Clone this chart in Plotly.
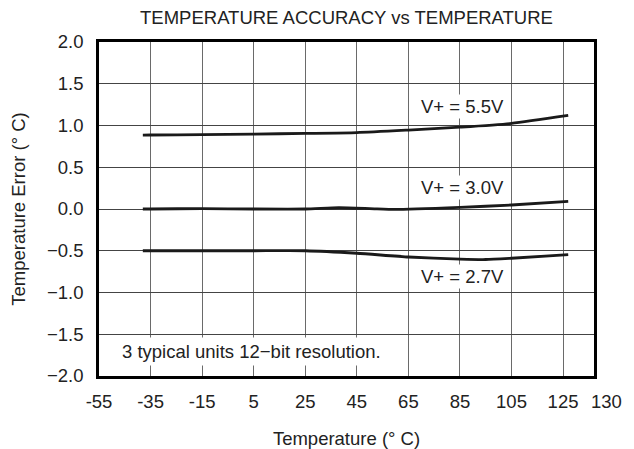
import plotly.graph_objects as go

# Data
temps_55 = [-38, -35, -15, 5, 25, 45, 65, 85, 105, 127]
err_55 = [0.885, 0.886, 0.89, 0.897, 0.905, 0.915, 0.945, 0.98, 1.025, 1.12]

temps_30 = [-38, -35, -15, 5, 25, 38, 50, 60, 85, 105, 127]
err_30 = [0.0, 0.0, 0.005, 0.0, 0.0, 0.015, 0.005, -0.005, 0.02, 0.048, 0.092]

temps_27 = [-38, -35, -15, 5, 25, 45, 65, 85, 95, 105, 127]
err_27 = [-0.5, -0.5, -0.5, -0.5, -0.5, -0.53, -0.575, -0.60, -0.605, -0.59, -0.547]

x_ticks = [-55, -35, -15, 5, 25, 45, 65, 85, 105, 125]
x_last_label = "130"
y_ticks = [-2.0, -1.5, -1.0, -0.5, 0.0, 0.5, 1.0, 1.5, 2.0]

series_labels = ["V+ = 5.5V", "V+ = 3.0V", "V+ = 2.7V"]
label_pos = [(86, 1.225), (86, 0.26), (86, -0.81)]

FONT = "Liberation Sans, Arial, sans-serif"
TXT = "#222222"
FS = 18.5

fig = go.Figure()
for xs, ys, name in [(temps_55, err_55, series_labels[0]),
                     (temps_30, err_30, series_labels[1]),
                     (temps_27, err_27, series_labels[2])]:
    fig.add_trace(go.Scatter(x=xs, y=ys, mode="lines", name=name,
                             line=dict(color="#1a1a1a", width=2.8, shape="spline", smoothing=0.6),
                             showlegend=False))

for (lx, ly), txt in zip(label_pos, series_labels):
    fig.add_annotation(x=lx, y=ly, text=txt, showarrow=False,
                       font=dict(family=FONT, size=FS, color=TXT),
                       bgcolor="white", borderpad=1)

fig.add_annotation(x=-47.7, y=-1.709, xanchor="left", yanchor="middle",
                   text="3 typical units 12\u2212bit resolution.", showarrow=False,
                   font=dict(family=FONT, size=FS, color=TXT),
                   bgcolor="white", borderpad=3)

fig.add_annotation(xref="paper", yref="paper", x=1.026, y=-0.075,
                   xanchor="center", yanchor="middle", text=x_last_label,
                   showarrow=False, font=dict(family=FONT, size=FS, color=TXT))

# page body has an 8px default margin, so the figure is 8px smaller
fig.update_layout(
    template="none",
    width=626, height=441,
    margin=dict(l=91, r=40, t=34, b=73, autoexpand=False),
    paper_bgcolor="white", plot_bgcolor="white",
    font=dict(family=FONT, color=TXT),
    title=dict(text="TEMPERATURE ACCURACY vs TEMPERATURE", x=0.5, xref="paper",
               xanchor="center", y=1 - 10 / 441, yref="container", yanchor="middle",
               font=dict(family=FONT, size=FS, color=TXT)),
)

fig.update_xaxes(range=[-55, 137], tickvals=x_ticks, ticktext=[str(v) for v in x_ticks],
                 automargin=False,
                 showgrid=True, gridcolor="#6a6a6a", gridwidth=1.2,
                 showline=True, mirror=True, linecolor="black", linewidth=2.5,
                 zeroline=False, ticks="", ticklabelstandoff=7,
                 tickfont=dict(family=FONT, size=FS, color=TXT),
                 title=dict(text="Temperature (\u00b0 C)", standoff=28,
                            font=dict(family=FONT, size=FS, color=TXT)))
fig.update_yaxes(range=[-2.0, 2.0], tickvals=y_ticks, tickformat=".1f",
                 automargin=False,
                 showgrid=True, gridcolor="#444444", gridwidth=1.2,
                 showline=True, mirror=True, linecolor="black", linewidth=2.5,
                 zeroline=False, ticks="", ticklabelstandoff=9,
                 tickfont=dict(family=FONT, size=FS, color=TXT),
                 title=dict(text="Temperature Error (\u00b0 C)", standoff=21,
                            font=dict(family=FONT, size=FS, color=TXT)))

fig.write_html("out.html")
